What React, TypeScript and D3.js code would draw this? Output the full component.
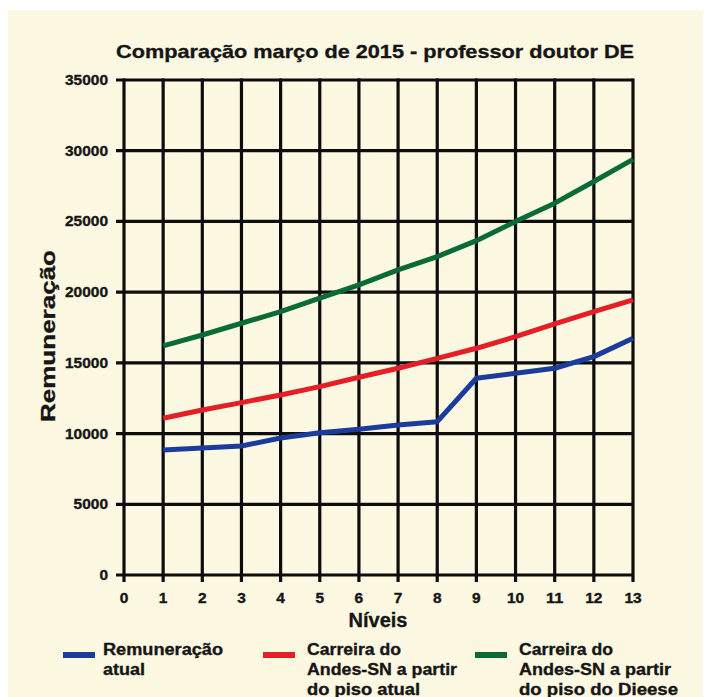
import React from "react";
import * as d3 from "d3";

const niveis = [1, 2, 3, 4, 5, 6, 7, 8, 9, 10, 11, 12, 13];
const remuneracaoAtual = [8840, 8980, 9120, 9690, 10060, 10300, 10610, 10840, 13910, 14260, 14620, 15440, 16740];
const carreiraPisoAtual = [11080, 11670, 12190, 12730, 13320, 13980, 14620, 15320, 16030, 16850, 17750, 18620, 19450];
const carreiraPisoDieese = [16200, 16970, 17800, 18620, 19570, 20510, 21570, 22510, 23640, 24990, 26290, 27820, 29390];
const xTicks = [0, 1, 2, 3, 4, 5, 6, 7, 8, 9, 10, 11, 12, 13];
const yTicks = [0, 5000, 10000, 15000, 20000, 25000, 30000, 35000];
const seriesNames = [
  ["Remuneração", "atual"],
  ["Carreira do", "Andes-SN a partir", "do piso atual"],
  ["Carreira do", "Andes-SN a partir", "do piso do Dieese"],
];
const seriesColors = ["#1b3c9c", "#e61e26", "#0b6b36"];
const title = "Comparação março de 2015 - professor doutor DE";
const xLabel = "Níveis";
const yLabel = "Remuneração";

const FONT = "'Liberation Sans', Arial, sans-serif";
const INK = "#161616";

export default function App() {
  const x = d3.scaleLinear().domain([0, 13]).range([124, 633]);
  const y = d3.scaleLinear().domain([0, 35000]).range([575, 80]);
  const seriesData = [remuneracaoAtual, carreiraPisoAtual, carreiraPisoDieese];
  const line = d3
    .line<[number, number]>()
    .x((d) => x(d[0]))
    .y((d) => y(d[1]));

  const legendX = [63, 263, 475];
  const legendTextW = [[120, 42], [94, 150, 113], [94, 152, 159]];
  const thick = { stroke: INK, strokeWidth: 0.35 };

  return (
    <svg width={703} height={689} style={{ display: "block" }}>
      <g transform="translate(-8,-8)">
        <rect x={8} y={10} width={703} height={687} fill="#fdf8e1" />
        <text x={375} y={58} textAnchor="middle" fontFamily={FONT} fontWeight="bold" fontSize={19} fill={INK} {...thick} textLength={518} lengthAdjust="spacingAndGlyphs">
          {title}
        </text>
        {/* grid */}
        {yTicks.map((t) => (
          <line key={"h" + t} x1={116} x2={x(13)} y1={y(t)} y2={y(t)} stroke="#0d0d0d" strokeWidth={3.2} />
        ))}
        {xTicks.map((t) => (
          <line key={"v" + t} x1={x(t)} x2={x(t)} y1={y(35000) - 1.6} y2={y(0) + 7} stroke="#0d0d0d" strokeWidth={3.2} />
        ))}
        {yTicks.map((t) => (
          <text key={"yl" + t} x={108} y={y(t) + 5} textAnchor="end" fontFamily={FONT} fontWeight="bold" fontSize={14} fill={INK} {...thick} textLength={String(t).length * 8.6} lengthAdjust="spacingAndGlyphs">
            {t}
          </text>
        ))}
        {xTicks.map((t) => (
          <text key={"xl" + t} x={x(t)} y={603} textAnchor="middle" fontFamily={FONT} fontWeight="bold" fontSize={14} fill={INK} {...thick} textLength={String(t).length * 8.6} lengthAdjust="spacingAndGlyphs">
            {t}
          </text>
        ))}
        <text x={378} y={627} textAnchor="middle" fontFamily={FONT} fontWeight="bold" fontSize={20} fill={INK} {...thick}>
          {xLabel}
        </text>
        <text transform="translate(55,336) rotate(-90)" textAnchor="middle" fontFamily={FONT} fontWeight="bold" fontSize={21} fill={INK} {...thick} textLength={172} lengthAdjust="spacingAndGlyphs">
          {yLabel}
        </text>
        {/* series */}
        {seriesData.map((vals, i) => (
          <path
            key={"s" + i}
            d={line(niveis.map((n, j) => [n, vals[j]] as [number, number])) || ""}
            fill="none"
            stroke={seriesColors[i]}
            strokeWidth={5}
            strokeLinejoin="round"
          />
        ))}
        {/* legend */}
        {seriesNames.map((lines, i) => (
          <g key={"lg" + i}>
            <line x1={legendX[i]} x2={legendX[i] + 32} y1={655} y2={655} stroke={seriesColors[i]} strokeWidth={6} />
            {lines.map((s, k) => (
              <text key={k} x={legendX[i] + (i === 0 ? 40 : 44)} y={655 + k * 20} fontFamily={FONT} fontWeight="bold" fontSize={16} fill={INK} {...thick} textLength={legendTextW[i][k]} lengthAdjust="spacingAndGlyphs">
                {s}
              </text>
            ))}
          </g>
        ))}
      </g>
    </svg>
  );
}
